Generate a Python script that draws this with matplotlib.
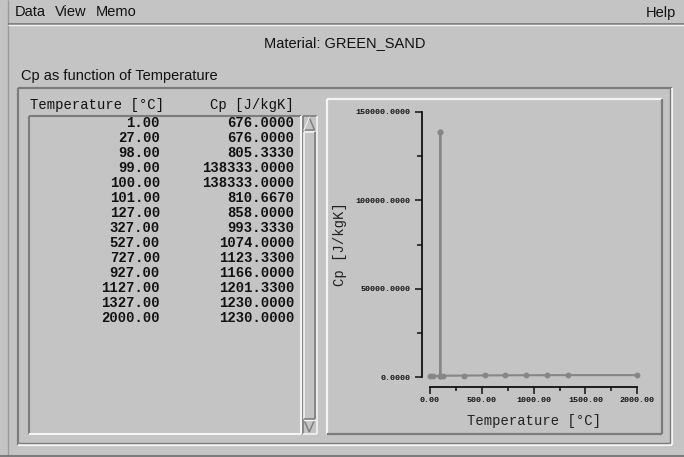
import matplotlib
matplotlib.use("Agg")
import matplotlib.pyplot as plt
from matplotlib.patches import Polygon
from matplotlib.ticker import MultipleLocator, FormatStrFormatter

# Material data: specific heat against temperature
temperature = [1.00, 27.00, 98.00, 99.00, 100.00, 101.00, 127.00, 327.00,
               527.00, 727.00, 927.00, 1127.00, 1327.00, 2000.00]
cp = [676.0, 676.0, 805.333, 138333.0, 138333.0, 810.667, 858.0, 993.333,
      1074.0, 1123.33, 1166.0, 1201.33, 1230.0, 1230.0]

material = "GREEN_SAND"
menu_items = ["Data", "View", "Memo"]
x_ticks = [0, 500, 1000, 1500, 2000]
y_ticks = [0, 50000, 100000, 150000]

BG = "#c4c4c4"
LIGHT = "#f4f4f4"
DARK = "#7c7c7c"
INK = "#111111"
LINE = "#868686"
MONO = "Liberation Mono"
SANS = "Liberation Sans"

W, H = 684, 457
fig = plt.figure(figsize=(W / 100, H / 100), dpi=100, facecolor=BG)

# full-size pixel canvas for the window decorations
bg = fig.add_axes([0, 0, 1, 1])
bg.set_xlim(0, W)
bg.set_ylim(H, 0)
bg.axis("off")


def hline(x0, x1, y, c, lw=1.3):
    bg.plot([x0, x1], [y, y], color=c, lw=lw, solid_capstyle="butt")


def vline(x, y0, y1, c, lw=1.3):
    bg.plot([x, x], [y0, y1], color=c, lw=lw, solid_capstyle="butt")


def bevel(x0, y0, x1, y1, raised=True, lw=1.3):
    tl, br = (LIGHT, DARK) if raised else (DARK, LIGHT)
    hline(x0, x1, y0, tl, lw)
    vline(x0, y0, y1, tl, lw)
    hline(x0, x1, y1, br, lw)
    vline(x1, y0, y1, br, lw)


# window edges and menu bar
vline(7.5, 0, H, "#9a9a9a", 1.0)
hline(8, W, 23.5, DARK, 1.3)
hline(8, W, 25, LIGHT, 1.0)
hline(0, W, 455.5, DARK, 1.5)

mx = 15
for item in menu_items:
    t = bg.text(mx, 12.5, item, family=SANS, size=10.5, color=INK,
                ha="left", va="center")
    fig.canvas.draw()
    bb = t.get_window_extent()
    mx += bb.width + 9
bg.text(676, 12.5, "Help", family=SANS, size=10.5, color=INK,
        ha="right", va="center")

bg.text(345, 43, "Material: " + material, family=SANS, size=10.5,
        color=INK, ha="center", va="center")
bg.text(21, 76, "Cp as function of Temperature", family=SANS, size=10.5,
        color=INK, ha="left", va="center")

# outer etched frame
bevel(17.5, 87.5, 671.5, 444.5, raised=False, lw=1.6)
vline(669.5, 88, 443, DARK, 1.0)
hline(18, 670, 442.5, DARK, 1.0)

# table list box and scrollbar
bevel(28.5, 115.5, 300.5, 433.5, raised=False, lw=1.5)
bevel(302.5, 115.5, 316.5, 433.5, raised=False, lw=1.2)
bevel(304, 131.5, 314.5, 418.5, raised=True, lw=1.2)
bg.add_patch(Polygon([[304, 130], [314.5, 130], [309.25, 117.5]], closed=True,
                     fc=BG, ec=DARK, lw=1.0))
bg.plot([304, 309.25], [130, 117.5], color=LIGHT, lw=1.0)
bg.add_patch(Polygon([[304, 420], [314.5, 420], [309.25, 432]], closed=True,
                     fc=BG, ec=DARK, lw=1.0))
bg.plot([304, 314.5], [420, 420], color=LIGHT, lw=1.0)

bg.text(30, 105.5, "Temperature [°C]", family=MONO, size=10, color=INK,
        ha="left", va="center")
bg.text(294, 105.5, "Cp [J/kgK]", family=MONO, size=10, color=INK,
        ha="right", va="center")
for i, (t, c) in enumerate(zip(temperature, cp)):
    y = 123.3 + i * 15.0
    bg.text(160, y, f"{t:.2f}", family=MONO, size=10, weight="bold",
            color=INK, ha="right", va="center")
    bg.text(294, y, f"{c:.4f}", family=MONO, size=10, weight="bold",
            color=INK, ha="right", va="center")

# chart panel
bevel(326.5, 98.5, 662, 433.5, raised=True, lw=1.6)

ax = fig.add_axes([430 / W, 1 - 377.3 / H, 207.3 / W, 265.6 / H])
ax.set_facecolor("none")
ax.plot(temperature, cp, color=LINE, lw=1.5, marker="o", ms=3.2,
        clip_on=False)
ax.set_xlim(0, 2000)
ax.set_ylim(0, 150000)

for s in ("top", "right"):
    ax.spines[s].set_visible(False)
ax.spines["left"].set_position(("outward", 5.8))
ax.spines["bottom"].set_position(("outward", 7.2))
for s in ("left", "bottom"):
    ax.spines[s].set_linewidth(1.3)
    ax.spines[s].set_color(INK)

ax.set_xticks(x_ticks)
ax.set_yticks(y_ticks)
ax.xaxis.set_minor_locator(MultipleLocator(250))
ax.yaxis.set_minor_locator(MultipleLocator(25000))
ax.xaxis.set_major_formatter(FormatStrFormatter("%.2f"))
ax.yaxis.set_major_formatter(FormatStrFormatter("%.4f"))
ax.tick_params(axis="y", which="major", length=5, width=1.1, pad=3,
               color=INK)
ax.tick_params(axis="y", which="minor", length=3.5, width=1.1, color=INK)
ax.tick_params(axis="x", which="major", length=5, width=1.1, pad=2.3,
               color=INK)
ax.tick_params(axis="x", which="minor", length=2.6, width=1.1, color=INK)
for lab in ax.get_xticklabels() + ax.get_yticklabels():
    lab.set_fontfamily(MONO)
    lab.set_fontweight("bold")
    lab.set_fontsize(6)
    lab.set_color(INK)

ax.set_xlabel("Temperature [°C]", family=MONO, size=10, color="#222222")
ax.xaxis.label.set_va("center")
ax.xaxis.set_label_coords(0.5, (377.3 - 420.7) / 265.6)
ax.set_ylabel("Cp [J/kgK]", family=MONO, size=10, color="#222222")
ax.yaxis.label.set_va("center")
ax.yaxis.set_label_coords((340 - 430) / 207.3, 0.5)

fig.savefig("out.png", dpi=100, facecolor=BG)
